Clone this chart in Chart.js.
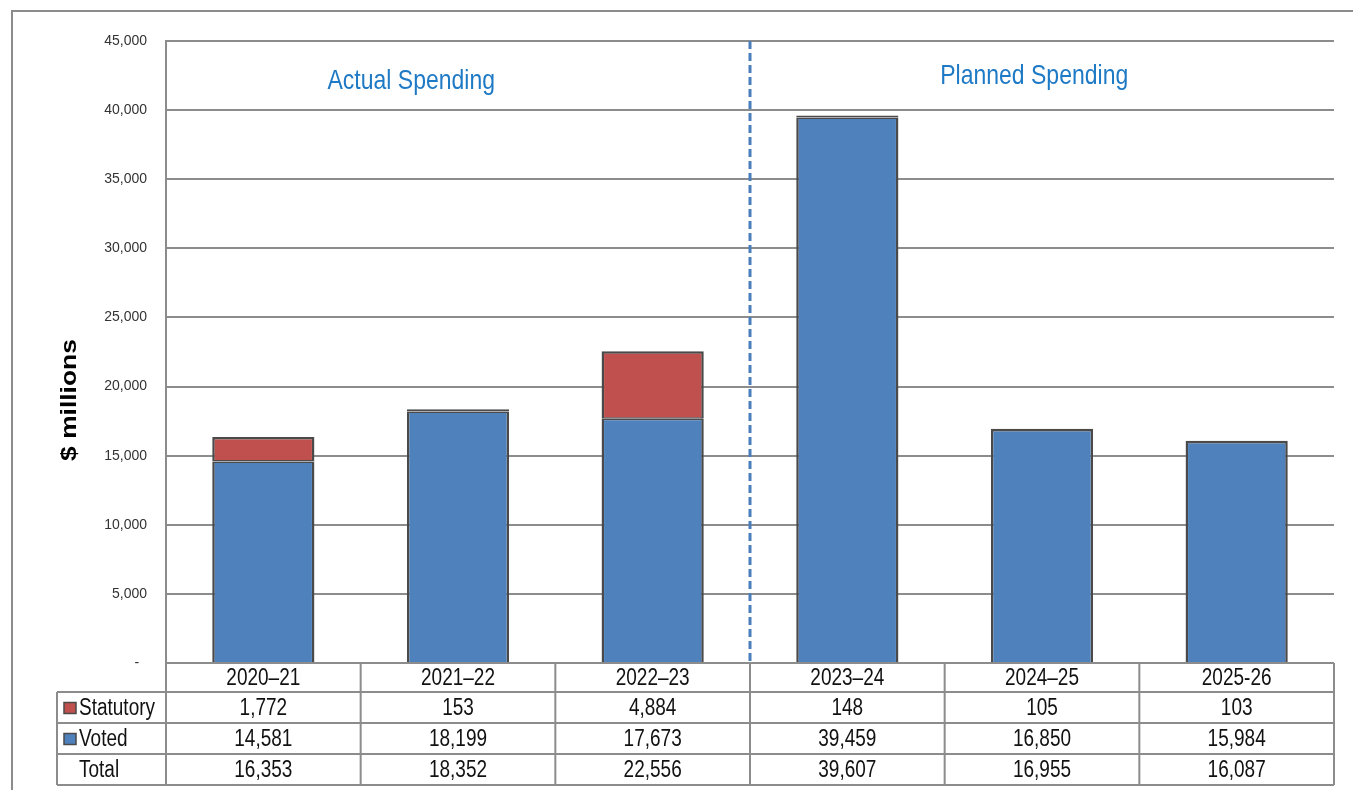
<!DOCTYPE html>
<html>
<head>
<meta charset="utf-8">
<script src="https://cdn.jsdelivr.net/npm/chart.js@4/dist/chart.umd.min.js"></script>
<style>
  html, body { margin: 0; padding: 0; background: #fff; }
  #wrap { width: 1353px; height: 790px; }
</style>
</head>
<body>
<div id="wrap"><canvas id="c" width="1353" height="790"></canvas></div>
<script>
const categories = ['2020–21', '2021–22', '2022–23', '2023–24', '2024–25', '2025-26'];
const statutory = [1772, 153, 4884, 148, 105, 103];
const voted = [14581, 18199, 17673, 39459, 16850, 15984];
const totals = [16353, 18352, 22556, 39607, 16955, 16087];
const seriesNames = ['Statutory', 'Voted', 'Total'];
const periodLabels = ['Actual Spending', 'Planned Spending'];
const yTitle = '$ millions';

const BLUE = '#4f81bd';
const RED = '#c0504d';
const EDGE = '#4a4a4a';
const GRID = '#8c8c8c';
const FONT = '"Liberation Sans", Arial, sans-serif';

function fmt(v) { return v.toLocaleString('en-US'); }

function stretchText(ctx, text, x, y, sx, sy) {
  ctx.save();
  ctx.translate(x, y);
  ctx.scale(sx, sy);
  ctx.fillText(text, 0, 0);
  ctx.restore();
}

const decorPlugin = {
  id: 'decor',
  beforeDraw(chart) {
    const ctx = chart.ctx;
    ctx.save();
    ctx.strokeStyle = GRID;
    ctx.lineWidth = 2;
    ctx.beginPath();
    ctx.moveTo(12, 790);
    ctx.lineTo(12, 11);
    ctx.lineTo(1353, 11);
    ctx.stroke();
    ctx.restore();
  },
  afterDraw(chart) {
    const ctx = chart.ctx;
    const xs = chart.scales.x;
    const area = chart.chartArea;
    const n = categories.length;
    const colW = (area.right - area.left) / n;

    // dashed divider between actual and planned
    const divX = (xs.getPixelForValue(2) + xs.getPixelForValue(3)) / 2;
    ctx.save();
    ctx.strokeStyle = '#4a7ebb';
    ctx.lineWidth = 3;
    ctx.setLineDash([8, 4]);
    ctx.beginPath();
    ctx.moveTo(divX, area.top);
    ctx.lineTo(divX, area.bottom);
    ctx.stroke();
    ctx.restore();

    // period labels
    ctx.save();
    ctx.fillStyle = '#1f7ac6';
    ctx.font = '23px ' + FONT;
    ctx.textAlign = 'center';
    ctx.textBaseline = 'middle';
    stretchText(ctx, periodLabels[0], xs.getPixelForValue(0.76), area.top + 40, 1, 1.2);
    stretchText(ctx, periodLabels[1], xs.getPixelForValue(3.96), area.top + 35, 1, 1.2);
    ctx.restore();

    // y title
    ctx.save();
    ctx.fillStyle = '#000';
    ctx.font = 'bold 22px ' + FONT;
    ctx.textAlign = 'center';
    ctx.textBaseline = 'middle';
    ctx.translate(70, 400);
    ctx.rotate(-Math.PI / 2);
    ctx.scale(1.2, 1);
    ctx.fillText(yTitle, 0, 0);
    ctx.restore();

    // data table
    const rowTops = [area.bottom, area.bottom + 29, area.bottom + 60, area.bottom + 91, area.bottom + 122];
    const legendLeft = 57;
    ctx.save();
    ctx.strokeStyle = GRID;
    ctx.lineWidth = 2;
    ctx.beginPath();
    ctx.moveTo(area.left, rowTops[0]); ctx.lineTo(area.right, rowTops[0]);
    for (let r = 1; r < rowTops.length; r++) {
      ctx.moveTo(legendLeft, rowTops[r]); ctx.lineTo(area.right, rowTops[r]);
    }
    for (let i = 0; i <= n; i++) {
      const x = area.left + i * colW;
      ctx.moveTo(x, rowTops[0]); ctx.lineTo(x, rowTops[4]);
    }
    ctx.moveTo(legendLeft, rowTops[1]); ctx.lineTo(legendLeft, rowTops[4]);
    ctx.stroke();

    ctx.fillStyle = '#111';
    ctx.font = '19px ' + FONT;
    ctx.textAlign = 'center';
    ctx.textBaseline = 'middle';
    const rows = [categories, statutory.map(fmt), voted.map(fmt), totals.map(fmt)];
    rows.forEach((vals, r) => {
      const cy = (rowTops[r] + rowTops[r + 1]) / 2;
      vals.forEach((v, i) => {
        stretchText(ctx, v, xs.getPixelForValue(i), cy + 1, 1, 1.28);
      });
    });

    ctx.textAlign = 'left';
    const swatchColors = [RED, BLUE, null];
    seriesNames.forEach((name, k) => {
      const cy = (rowTops[k + 1] + rowTops[k + 2]) / 2;
      const col = swatchColors[k];
      if (col) {
        ctx.fillStyle = col;
        ctx.fillRect(64, cy - 5, 12, 11);
        ctx.strokeStyle = EDGE;
        ctx.lineWidth = 1.5;
        ctx.strokeRect(64, cy - 5, 12, 11);
      }
      ctx.fillStyle = '#111';
      stretchText(ctx, name, 79, cy + 1, 1, 1.28);
    });
    ctx.restore();
  }
};

new Chart(document.getElementById('c'), {
  type: 'bar',
  data: {
    labels: categories,
    datasets: [
      {
        label: 'Voted',
        data: voted,
        backgroundColor: BLUE,
        borderColor: EDGE,
        borderWidth: { top: 1.5, left: 2.5, right: 2.5, bottom: 0 },
        borderSkipped: false,
        barPercentage: 0.525,
        categoryPercentage: 1
      },
      {
        label: 'Statutory',
        data: statutory,
        backgroundColor: RED,
        borderColor: EDGE,
        borderWidth: { top: 2.5, left: 2.5, right: 2.5, bottom: 1.5 },
        borderSkipped: false,
        barPercentage: 0.525,
        categoryPercentage: 1
      }
    ]
  },
  options: {
    responsive: false,
    animation: false,
    devicePixelRatio: 1,
    layout: { padding: { left: 0, top: 41, right: 19, bottom: 127 } },
    plugins: {
      legend: { display: false },
      tooltip: { enabled: false },
      title: { display: false }
    },
    scales: {
      x: {
        stacked: true,
        display: false
      },
      y: {
        stacked: true,
        min: 0,
        max: 45000,
        afterFit(scale) { scale.width = 166; },
        ticks: {
          stepSize: 5000,
          padding: 19,
          color: '#333',
          font: { family: FONT, size: 14 },
          callback: (v) => v === 0 ? '-  ' : fmt(v)
        },
        grid: { color: GRID, lineWidth: 2, drawTicks: false },
        border: { display: true, color: GRID, width: 2 }
      }
    }
  },
  plugins: [decorPlugin]
});
</script>
</body>
</html>
